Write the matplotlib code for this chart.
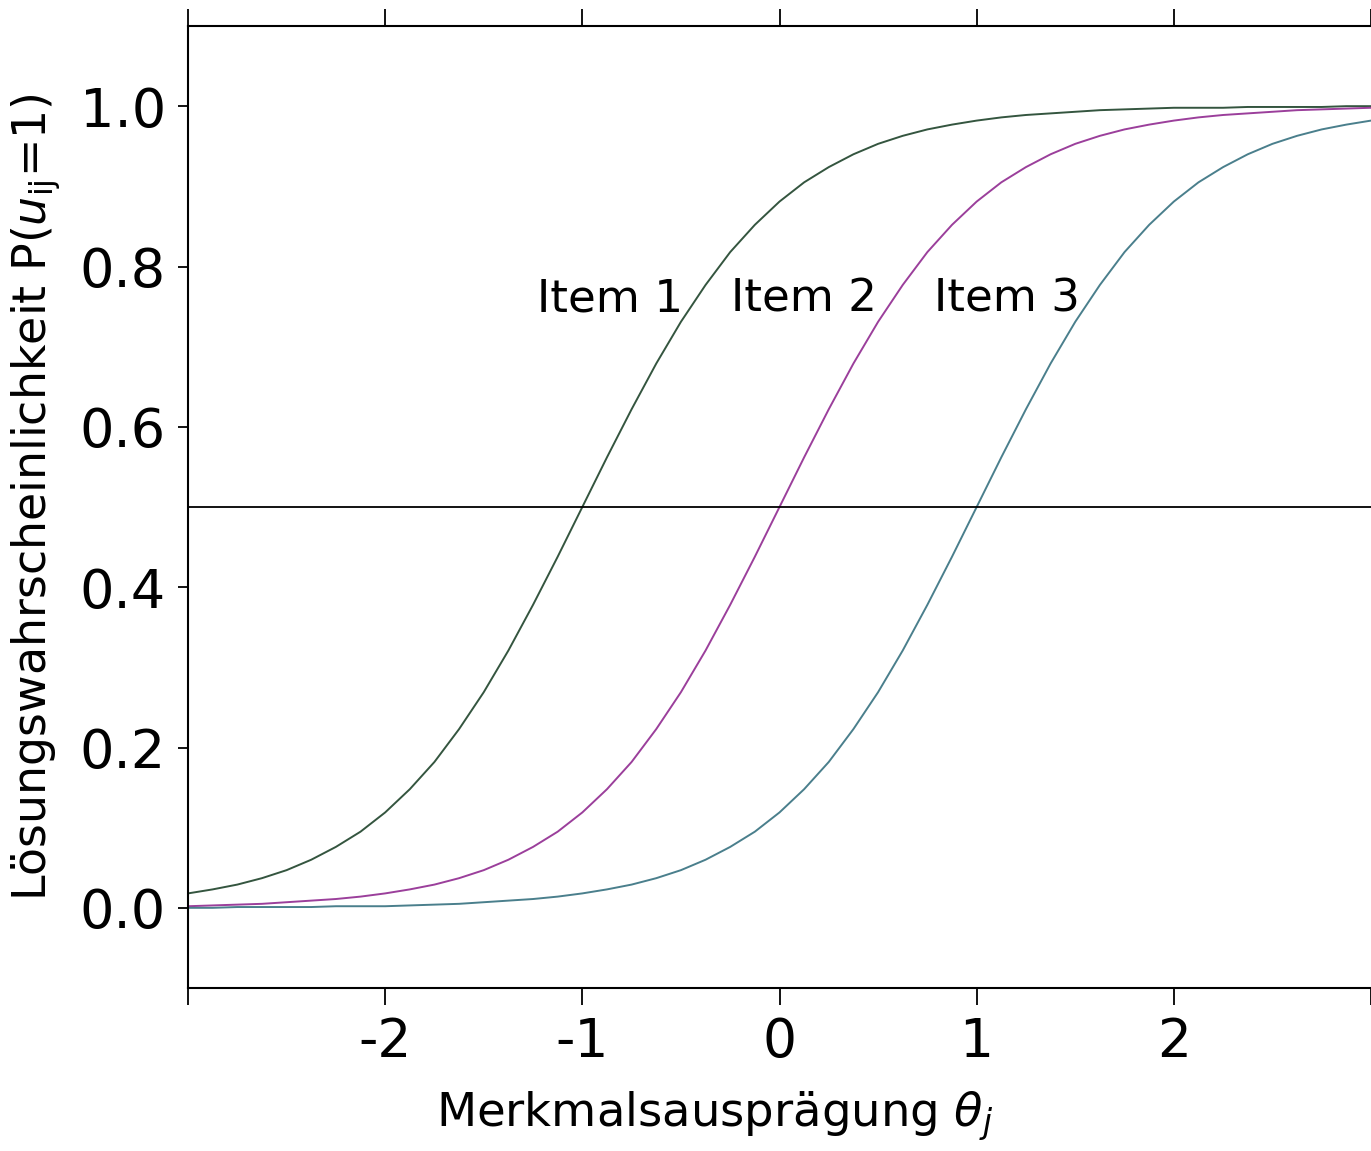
import numpy as np
import matplotlib.pyplot as plt

# ability values (theta), step 0.125 from -3 to 3
theta = np.linspace(-3, 3, 49)

# solving probabilities
item1 = [0.018, 0.023, 0.029, 0.037, 0.047, 0.060, 0.076, 0.095, 0.119, 0.148, 0.182, 0.223,
         0.269, 0.321, 0.378, 0.438, 0.500, 0.562, 0.622, 0.679, 0.731, 0.777, 0.818, 0.852,
         0.881, 0.905, 0.924, 0.940, 0.953, 0.963, 0.971, 0.977, 0.982, 0.986, 0.989, 0.991,
         0.993, 0.995, 0.996, 0.997, 0.998, 0.998, 0.998, 0.999, 0.999, 0.999, 0.999, 1.000, 1.000]
item2 = [0.002, 0.003, 0.004, 0.005, 0.007, 0.009, 0.011, 0.014, 0.018, 0.023, 0.029, 0.037,
         0.047, 0.060, 0.076, 0.095, 0.119, 0.148, 0.182, 0.223, 0.269, 0.321, 0.378, 0.438,
         0.500, 0.562, 0.622, 0.679, 0.731, 0.777, 0.818, 0.852, 0.881, 0.905, 0.924, 0.940,
         0.953, 0.963, 0.971, 0.977, 0.982, 0.986, 0.989, 0.991, 0.993, 0.995, 0.996, 0.997, 0.998]
item3 = [0.000, 0.000, 0.001, 0.001, 0.001, 0.001, 0.002, 0.002, 0.002, 0.003, 0.004, 0.005,
         0.007, 0.009, 0.011, 0.014, 0.018, 0.023, 0.029, 0.037, 0.047, 0.060, 0.076, 0.095,
         0.119, 0.148, 0.182, 0.223, 0.269, 0.321, 0.378, 0.438, 0.500, 0.562, 0.622, 0.679,
         0.731, 0.777, 0.818, 0.852, 0.881, 0.905, 0.924, 0.940, 0.953, 0.963, 0.971, 0.977, 0.982]

item_names = ['Item 1', 'Item 2', 'Item 3']
label_x = [-1.23, -0.245, 0.785]
label_y = 0.76
colors = ['#34553f', '#9b3f9b', '#4a7f8c']

xticks = [-3, -2, -1, 0, 1, 2, 3]
xticklabels = ['', '-2', '-1', '0', '1', '2', '']
yticks = [0.0, 0.2, 0.4, 0.6, 0.8, 1.0]

fig = plt.figure(figsize=(13.71, 11.51), dpi=100)
ax = fig.add_axes([188 / 1371, 163 / 1151, 1 - 188 / 1371, (1151 - 163 - 26) / 1151])

for ys, c in zip([item1, item2, item3], colors):
    ax.plot(theta, ys, color=c, linewidth=1.4)

ax.axhline(0.5, color='black', linewidth=1.3)

for name, lx in zip(item_names, label_x):
    ax.text(lx, label_y, name, fontsize=32.5, ha='left', va='center')

ax.set_xlim(-3, 3)
ax.set_ylim(-0.1, 1.1)

ax.set_xticks(xticks)
ax.set_xticklabels(xticklabels, fontsize=38.5)
ax.set_yticks(yticks)
ax.set_yticklabels(['%.1f' % v for v in yticks], fontsize=39)

ax.tick_params(axis='x', which='both', direction='out', length=12, width=1.3,
               top=True, bottom=True, labeltop=False, pad=8)
ax.tick_params(axis='y', length=7, width=1.3, pad=9, right=False)

ax.spines['right'].set_visible(False)
for s in ['left', 'top', 'bottom']:
    ax.spines[s].set_linewidth(1.5)

ax.set_xlabel(r'Merkmalsausprägung $\theta_j$', fontsize=33.5)
ax.xaxis.set_label_coords(0.445, -0.106)
ax.set_ylabel(r'Lösungswahrscheinlichkeit P($u_{\mathrm{ij}}$=1)', fontsize=33)
ax.yaxis.set_label_coords(-0.106, 0.51)

fig.savefig('out.png', dpi=100)
